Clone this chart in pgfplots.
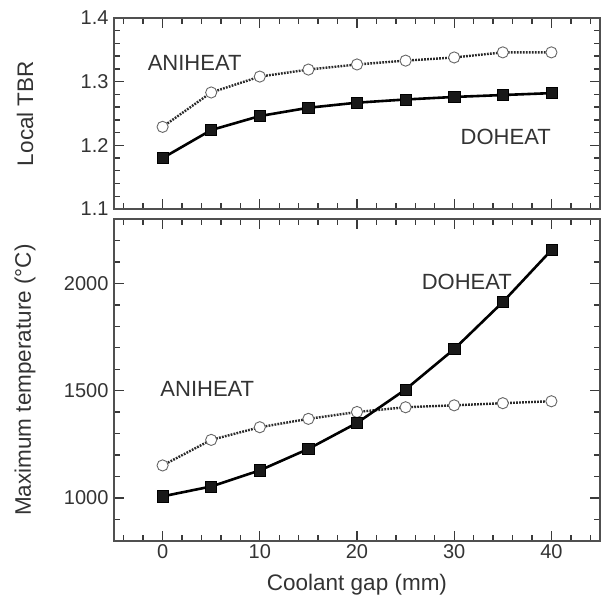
\documentclass[border=0pt]{standalone}
\usepackage{fontspec}
\setmainfont{Liberation Sans}
\usepackage{pgfplots}
\pgfplotsset{compat=1.18}
\definecolor{txt}{HTML}{333333}
\definecolor{axc}{HTML}{505050}
\definecolor{tkc}{HTML}{3A3A3A}
\definecolor{dotc}{HTML}{2A2A2A}
\tikzset{lab/.style={font=\fontsize{22}{26}\selectfont, text=txt}}
\begin{document}
\begin{tikzpicture}
\useasboundingbox (-114pt,-58pt) rectangle (489pt,541pt);
\pgfplotsset{
  panel/.style={
    scale only axis, width=486pt,
    xmin=-5, xmax=45,
    xtick={0,10,20,30,40},
    minor xtick={-4,-2,2,4,6,8,12,14,16,18,22,24,26,28,32,34,36,38,42,44},
    tick align=inside,
    major tick length=10pt, minor tick length=6pt,
    tick style={tkc, line width=1.4pt},
    axis line style={axc, line width=1.4pt},
    tick label style={font=\fontsize{20}{24}\selectfont, text=txt},
    /pgf/number format/assume math mode=true,
    /pgf/number format/set thousands separator={},
    every axis y label/.style={at={(axis description cs:-0.183,0.5)}, rotate=90, anchor=center, font=\fontsize{22.5}{27}\selectfont, text=txt},
    every axis x label/.style={at={(axis description cs:0.5,-0.137)}, anchor=center, font=\fontsize{22.5}{27}\selectfont, text=txt},
    yticklabel style={xshift=-2pt},
  },
  doheat/.style={black, line width=2.6pt, mark=square*, mark size=5.6pt, mark options={solid, fill=black!90, draw=black, line width=0.6pt}},
  aniheat/.style={dotc, line width=2.4pt, dash pattern=on 1.8pt off 1.2pt, mark=*, mark size=5.6pt, mark options={solid, fill=white, draw=gray!80!black, line width=0.9pt}},
}
% bottom panel
\begin{axis}[panel,
  at={(0pt,0pt)}, anchor=south west,
  height=322pt,
  ymin=800, ymax=2300,
  ytick={1000,1500,2000},
  minor ytick={900,1100,1200,1300,1400,1600,1700,1800,1900,2100,2200},
  xlabel={Coolant gap (mm)},
  ylabel={Maximum temperature (°C)},
]
\addplot[aniheat] coordinates {(0,1152) (5,1271) (10,1330) (15,1369) (20,1401) (25,1423) (30,1432) (35,1442) (40,1451)};
\addplot[doheat] coordinates {(0,1008) (5,1054) (10,1129) (15,1229) (20,1350) (25,1506) (30,1694) (35,1913) (40,2155)};
\node[lab] at (axis cs:4.6,1508) {ANIHEAT};
\node[lab] at (axis cs:31.3,2008) {DOHEAT};
\end{axis}
% top panel
\begin{axis}[panel,
  at={(0pt,332pt)}, anchor=south west,
  height=191pt,
  ymin=1.1, ymax=1.4,
  ytick={1.1,1.2,1.3,1.4},
  minor ytick={1.12,1.14,1.16,1.18,1.22,1.24,1.26,1.28,1.32,1.34,1.36,1.38},
  xticklabels={},
  yticklabel style={/pgf/number format/fixed, /pgf/number format/precision=1, /pgf/number format/fixed zerofill},
  ylabel={Local TBR},
]
\addplot[aniheat] coordinates {(0,1.229) (5,1.283) (10,1.308) (15,1.319) (20,1.327) (25,1.333) (30,1.338) (35,1.346) (40,1.346)};
\addplot[doheat] coordinates {(0,1.180) (5,1.224) (10,1.246) (15,1.259) (20,1.267) (25,1.272) (30,1.276) (35,1.279) (40,1.282)};
\node[lab] at (axis cs:3.3,1.33) {ANIHEAT};
\node[lab] at (axis cs:35.3,1.2125) {DOHEAT};
\end{axis}
\end{tikzpicture}
\end{document}
